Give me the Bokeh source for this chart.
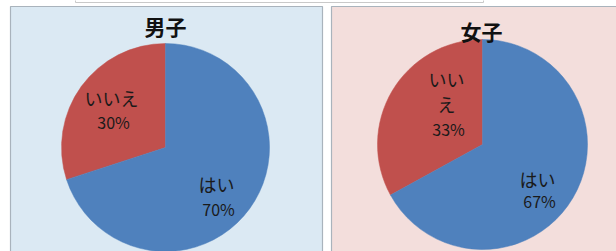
import math
from bokeh.plotting import figure
from bokeh.models import Range1d
from bokeh.embed import file_html
from bokeh.resources import INLINE
from bokeh.core.properties import value

# ---- data ----
groups = ["男子", "女子"]
answers = ["いいえ", "はい"]
no_pct = [30, 33]
yes_pct = [70, 67]
no_label_lines = [["いいえ"], ["いい", "え"]]   # label of the "いいえ" slice, as wrapped in the chart
yes_label_lines = [["はい"], ["はい"]]

# ---- layout (image pixel coordinates, y down) ----
W, H = 616, 251
panel_boxes = [(10, 322, 6, 260), (331, 620, 6, 260)]
panel_fill = ["#DBE9F3", "#F3DEDC"]
centers = [(165, 147), (482, 144)]
radii = [104, 105]
title_pos = [(165, 25), (481, 30)]
no_label_pos = [(111, 97, 24), (446, 78, 25)]   # x, first-line y, line step
yes_label_pos = [(216, 183, 25), (537, 178, 22)]
colors = {"はい": "#4F81BD", "いいえ": "#C0504D"}
FONT = value("Noto Sans CJK JP")

def Y(y):
    return H - y

p = figure(width=W, height=H, output_backend="svg", toolbar_location=None,
           x_range=Range1d(0, W), y_range=Range1d(0, H), min_border=0,
           background_fill_color="white", border_fill_color="white",
           outline_line_color=None)
p.axis.visible = False
p.xgrid.visible = False
p.ygrid.visible = False

# top strip box (partially visible)
p.quad(left=[75], right=[483], top=[Y(-10)], bottom=[Y(2)],
       fill_color=None, line_color="#C9C9C9", line_width=1)

for i, g in enumerate(groups):
    l, r, t, b = panel_boxes[i]
    p.quad(left=[l], right=[r], top=[Y(t)], bottom=[Y(b)],
           fill_color=panel_fill[i], line_color="#A9B3BC", line_width=1.2)
    cx, cy = centers[i]
    total = no_pct[i] + yes_pct[i]
    start = math.pi / 2
    a_no = start + 2 * math.pi * no_pct[i] / total
    a_end = start + 2 * math.pi
    p.wedge(x=[cx], y=[Y(cy)], radius=radii[i], start_angle=[start], end_angle=[a_no],
            fill_color=colors["いいえ"], line_color=colors["いいえ"], line_width=0.5)
    p.wedge(x=[cx], y=[Y(cy)], radius=radii[i], start_angle=[a_no], end_angle=[a_end],
            fill_color=colors["はい"], line_color=colors["はい"], line_width=0.5)
    # title
    tx, ty = title_pos[i]
    p.text(x=[tx], y=[Y(ty)], text=[g], text_font=FONT, text_font_size="21px",
           text_font_style="bold", text_align="center", text_baseline="middle",
           text_color="#111111")
    # labels
    for lines, pct, pos in ((no_label_lines[i], no_pct[i], no_label_pos[i]),
                            (yes_label_lines[i], yes_pct[i], yes_label_pos[i])):
        lx, ly, step = pos
        for k, s in enumerate(lines):
            p.text(x=[lx], y=[Y(ly + k * step)], text=[s], text_font=FONT,
                   text_font_size="18px", text_align="center", text_baseline="middle",
                   text_color="#1a1a1a")
        p.text(x=[lx + 2], y=[Y(ly + len(lines) * step)], text=[f"{pct}%"], text_font=FONT,
               text_font_size="16px", text_align="center", text_baseline="middle",
               text_color="#1a1a1a")

open("out.html", "w").write(file_html(p, INLINE))
